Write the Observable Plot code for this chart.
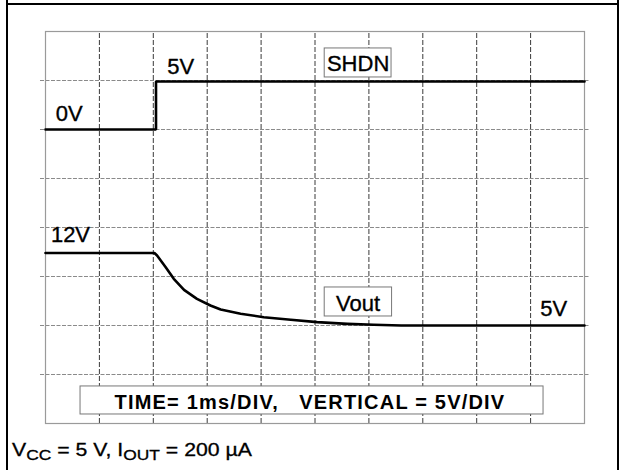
<!DOCTYPE html>
<html>
<head>
<meta charset="utf-8">
<script src="https://cdn.jsdelivr.net/npm/d3@7"></script>
<script src="https://cdn.jsdelivr.net/npm/@observablehq/plot@0.6"></script>
<style>
  html, body { margin: 0; padding: 0; background: #fff; }
  #wrap { position: relative; width: 622px; height: 470px; overflow: hidden; background: #fff; }
  #wrap svg text { white-space: pre; }
  .bl { position: absolute; background: #000; }
  #caption {
    position: absolute; left: 12px; top: 441px; margin: 0;
    font-family: "Liberation Sans", Arial, sans-serif; font-size: 18px; line-height: 18px;
    color: #000; white-space: nowrap; transform: scaleX(1.18); transform-origin: left center;
    -webkit-text-stroke: 0.3px #000;
  }
  #caption .sub { font-size: 0.82em; position: relative; top: 4px; }
</style>
</head>
<body>
<div id="wrap">
  <div class="bl" style="left:6px;top:0;width:2px;height:470px"></div>
  <div class="bl" style="left:617px;top:0;width:2px;height:470px"></div>
  <div class="bl" style="left:6px;top:3px;width:613px;height:2px"></div>
  <div id="chart" style="position:absolute;left:0;top:0"></div>
  <div id="caption">V<span class="sub">CC</span> = 5 V, I<span class="sub">OUT</span> = 200 µA</div>
</div>
<script>
// ---- data (time in ms, voltage in V) ----
const shdnTime = [0, 2.05, 2.05, 10];
const shdnVolts = [0, 0, 4.9, 4.9];

const voutTime = [0, 2.02, 2.07, 2.23, 2.38, 2.57, 2.81, 3.06, 3.25, 3.62, 4.05, 4.55, 5.04, 5.6, 6.09, 6.6, 10];
const voutVolts = [12.4, 12.4, 12.14, 10.95, 9.76, 8.64, 7.72, 7.04, 6.63, 6.19, 5.85, 5.58, 5.34, 5.17, 5.07, 5.0, 5.0];

// grid divisions: 1 ms/DIV horizontally, 5 V/DIV vertically
const timeDivs = [1, 2, 3, 4, 5, 6, 7, 8, 9];
const voltDivs = [0, 5, 10, 15, 20, 25, 30];

// screen ground reference of each trace (in V on the 5 V/DIV screen)
const shdnGround = 25;
const voutGround = 0;

// annotation texts
const levelLabels = ["5V", "0V", "12V", "5V"];
const levelTimes = [2.26, 0.19, 0.1, 9.18];
const levelVolts = [30.7, 25.9, 13.5, 5.92];

const traceNames = ["SHDN", "Vout"];
const traceNameTimes = [5.8, 5.8];
const traceNameVolts = [31.0, 6.46];
const traceBoxT = [[5.18, 6.42], [5.18, 6.43]];
const traceBoxV = [[30.31, 33.27], [5.92, 8.88]];

const settingsText = "TIME= 1ms/DIV,   VERTICAL = 5V/DIV";
const settingsPos = {t: 1.28, v: -3.5};
const settingsBox = {t1: 0.65, t2: 9.24, v1: -4.08, v2: -1.22};

// ---- build ----
const shdn = shdnTime.map((t, i) => ({t, v: shdnVolts[i] + shdnGround}));
const vout = voutTime.map((t, i) => ({t, v: voutVolts[i] + voutGround}));
const levels = levelLabels.map((s, i) => ({s, t: levelTimes[i], v: levelVolts[i]}));
const names = traceNames.map((s, i) => ({s, t: traceNameTimes[i], v: traceNameVolts[i],
  t1: traceBoxT[i][0], t2: traceBoxT[i][1], v1: traceBoxV[i][0], v2: traceBoxV[i][1]}));

const font = "Liberation Sans, Arial, Helvetica, sans-serif";

const chart = Plot.plot({
  width: 622,
  height: 430,
  marginLeft: 45,
  marginRight: 38,
  marginTop: 31,
  marginBottom: 7,
  x: {domain: [0, 10], axis: null},
  y: {domain: [-5, 35], axis: null},
  style: {background: "transparent", fontFamily: font, color: "#000"},
  marks: [
    Plot.ruleY(voltDivs, {x1: -0.093, x2: 10.093, stroke: "#8a8a8a", strokeWidth: 1, strokeDasharray: "4,1.5"}),
    Plot.ruleX(timeDivs, {y1: -5, y2: 35, stroke: "#3a3a3a", strokeWidth: 1, strokeDasharray: "5,2"}),
    Plot.frame({stroke: "#9a9a9a", strokeWidth: 1.2}),
    Plot.line(shdn, {x: "t", y: "v", stroke: "#000", strokeWidth: 2.6, strokeLinejoin: "miter"}),
    Plot.line(vout, {x: "t", y: "v", stroke: "#000", strokeWidth: 2.6}),
    Plot.rect(names, {x1: "t1", x2: "t2", y1: "v1", y2: "v2", fill: "#fff", stroke: "#777", strokeWidth: 1}),
    Plot.rect([settingsBox], {x1: "t1", x2: "t2", y1: "v1", y2: "v2", fill: "#fff", stroke: "#777", strokeWidth: 1}),
    Plot.text(levels, {x: "t", y: "v", text: "s", textAnchor: "start", lineAnchor: "bottom", fontSize: 22, fill: "#000", stroke: "#000", strokeWidth: 0.35}),
    Plot.text(names, {x: "t", y: "v", text: "s", textAnchor: "middle", lineAnchor: "bottom", fontSize: 22, fill: "#000", stroke: "#000", strokeWidth: 0.35}),
    Plot.text([settingsPos], {x: "t", y: "v", text: () => settingsText, textAnchor: "start", lineAnchor: "bottom", fontSize: 20, fontWeight: "bold", fill: "#000"})
  ]
});

document.getElementById("chart").appendChild(chart);

// widen the bold settings line like the original lettering
chart.querySelectorAll("text").forEach(el => {
  if (el.textContent.startsWith("TIME")) el.style.letterSpacing = "1.2px";
});
</script>
</body>
</html>
